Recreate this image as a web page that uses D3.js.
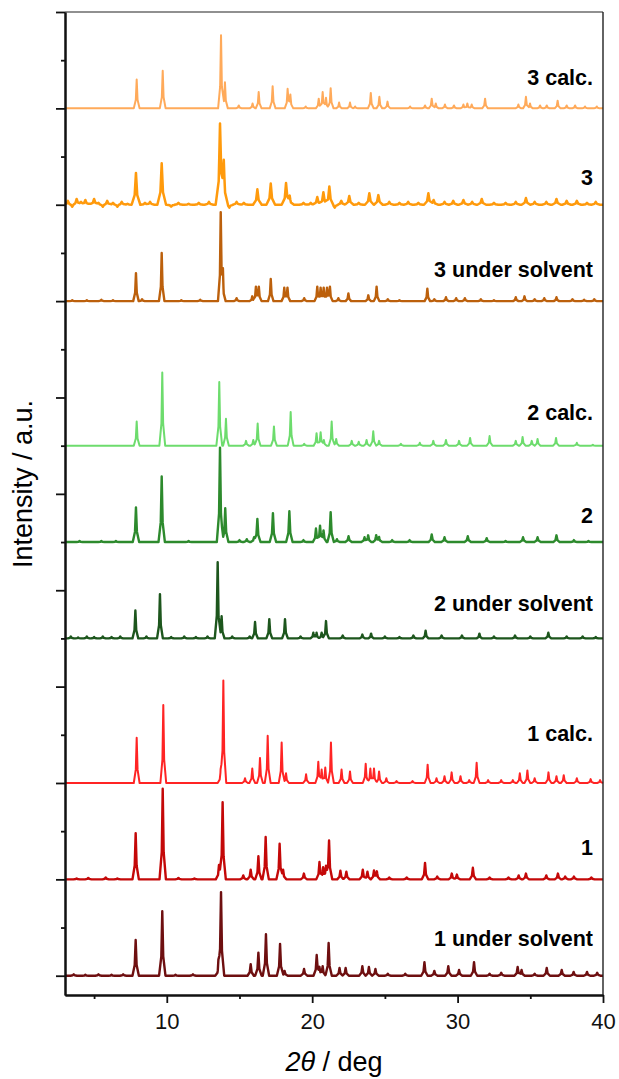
<!DOCTYPE html>
<html>
<head>
<meta charset="utf-8">
<script src="https://cdn.jsdelivr.net/npm/d3@7"></script>
<style>
  body { margin: 0; background: #fff; }
  text { font-family: Arial, "Liberation Sans", sans-serif; fill: #000; }
</style>
</head>
<body>
<script>
var width = 619;
var height = 1079;
var margin = { top: 12, right: 16, bottom: 84, left: 65 };

// peak lists: [2theta, intensity above the pattern's own baseline]
var peaks3calc = [[7.93,0.30],[9.72,0.39],[13.73,0.76],[14.0,0.27],[14.95,0.03],[15.9,0.05],[16.32,0.17],[17.28,0.23],[18.31,0.2],[18.5,0.14],[19.55,0.02],[20.45,0.1],[20.72,0.17],[20.95,0.11],[21.27,0.21],[21.85,0.06],[22.6,0.06],[22.95,0.02],[24.03,0.16],[24.62,0.12],[25.18,0.07],[26.73,0.02],[27.76,0.03],[28.22,0.1],[28.5,0.05],[29.13,0.04],[29.75,0.03],[30.4,0.04],[30.67,0.05],[30.97,0.04],[31.89,0.1],[34.18,0.04],[34.7,0.12],[34.98,0.05],[35.67,0.03],[36.13,0.03],[36.88,0.08],[37.5,0.03],[38.08,0.03],[38.76,0.02],[39.57,0.02]];
var peaks3 = [[3.2,0.04],[3.5,-0.02],[3.8,0.06],[4.1,0.03],[4.4,0.05],[4.7,0.01],[5.0,0.06],[5.3,0.02],[5.6,-0.02],[5.9,0.04],[6.3,0.02],[6.6,-0.02],[6.9,0.03],[7.3,0.01],[7.88,0.33],[8.5,0.02],[8.85,0.03],[9.65,0.43],[10.3,-0.02],[10.8,0.02],[11.5,0.01],[12.2,0.02],[12.9,0.03],[13.66,0.82],[13.92,0.42],[14.3,-0.03],[14.8,0.03],[15.3,0.02],[16.23,0.16],[17.15,0.22],[18.2,0.22],[18.45,0.08],[19.4,0.02],[19.9,0.02],[20.35,0.08],[20.77,0.13],[21.18,0.19],[21.55,-0.03],[22.0,0.04],[22.55,0.09],[23.2,0.02],[23.93,0.12],[24.55,0.1],[25.3,0.03],[26.0,0.02],[26.6,0.03],[27.3,0.02],[27.99,0.12],[28.35,0.05],[29.1,0.03],[29.7,0.04],[30.4,0.05],[31.0,0.03],[31.66,0.06],[32.5,0.02],[33.3,0.02],[34.0,0.03],[34.7,0.07],[35.3,0.03],[36.1,0.03],[36.8,0.06],[37.5,0.04],[38.2,0.04],[38.9,0.02],[39.5,0.03]];
var peaks3us = [[3.5,0.01],[4.5,0.01],[5.5,0.015],[6.3,0.01],[7.88,0.29],[8.3,0.02],[9.65,0.5],[11.0,0.01],[12.3,0.015],[13.71,0.9],[13.86,0.26],[14.8,0.03],[15.88,0.05],[16.13,0.15],[16.33,0.15],[17.15,0.23],[18.08,0.14],[18.3,0.14],[19.45,0.03],[20.35,0.15],[20.58,0.14],[20.79,0.14],[21.02,0.14],[21.22,0.15],[21.8,0.03],[22.49,0.08],[23.86,0.06],[24.43,0.15],[25.2,0.02],[26.0,0.01],[27.92,0.13],[28.4,0.02],[29.2,0.04],[29.9,0.03],[30.5,0.03],[31.6,0.02],[32.5,0.01],[34.0,0.04],[34.6,0.05],[35.3,0.02],[35.96,0.03],[36.8,0.04],[37.9,0.02],[38.7,0.015],[39.4,0.02]];
var peaks2calc = [[7.93,0.25],[9.69,0.76],[13.61,0.66],[14.07,0.28],[15.45,0.05],[15.95,0.06],[16.25,0.23],[17.37,0.2],[18.52,0.35],[19.45,0.02],[20.3,0.13],[20.58,0.14],[20.8,0.06],[21.34,0.25],[21.65,0.07],[22.72,0.05],[23.2,0.04],[23.74,0.06],[24.2,0.15],[24.6,0.05],[26.1,0.02],[27.4,0.03],[28.33,0.05],[29.2,0.06],[30.1,0.05],[30.86,0.08],[32.2,0.1],[34.0,0.05],[34.47,0.09],[35.1,0.05],[35.5,0.07],[36.77,0.08],[38.2,0.03],[39.3,0.01]];
var peaks2 = [[4.0,0.01],[5.5,0.01],[6.5,0.01],[7.88,0.36],[9.65,0.68],[11.5,0.01],[13.66,0.98],[14.02,0.35],[15.0,0.02],[15.5,0.03],[16.0,0.05],[16.23,0.24],[17.3,0.3],[18.43,0.32],[19.4,0.02],[20.26,0.14],[20.54,0.17],[20.78,0.12],[21.27,0.31],[21.7,0.03],[22.5,0.06],[23.6,0.05],[23.85,0.07],[24.4,0.07],[24.6,0.05],[25.5,0.02],[26.7,0.02],[28.22,0.08],[29.1,0.05],[30.7,0.06],[32.0,0.04],[33.3,0.01],[34.5,0.05],[35.5,0.05],[36.8,0.07],[38.0,0.02],[39.0,0.01]];
var peaks2us = [[3.4,0.02],[3.9,0.01],[4.5,0.02],[5.0,0.015],[5.6,0.02],[6.2,0.015],[6.8,0.02],[7.84,0.29],[8.6,0.02],[9.53,0.46],[10.3,0.015],[11.2,0.02],[12.0,0.015],[12.8,0.02],[13.5,0.79],[13.77,0.23],[14.5,0.02],[15.7,0.02],[16.07,0.17],[17.05,0.2],[18.13,0.2],[19.2,0.02],[20.08,0.06],[20.3,0.06],[20.65,0.06],[20.95,0.18],[22.1,0.03],[23.45,0.04],[24.05,0.05],[25.0,0.02],[26.0,0.015],[26.96,0.03],[27.8,0.08],[28.9,0.03],[30.3,0.03],[31.5,0.05],[32.5,0.02],[33.95,0.03],[35.0,0.02],[36.24,0.06],[37.5,0.02],[38.6,0.02],[39.5,0.015]];
var peaks1calc = [[7.93,0.47],[9.76,0.81],[13.7,0.12],[13.89,1.06],[15.38,0.05],[15.88,0.15],[16.41,0.26],[16.94,0.49],[17.9,0.42],[18.2,0.1],[19.58,0.09],[20.42,0.22],[20.65,0.14],[20.9,0.16],[21.29,0.42],[22.02,0.14],[22.6,0.12],[23.68,0.2],[24.0,0.15],[24.25,0.15],[24.6,0.12],[25.1,0.05],[25.8,0.02],[26.9,0.02],[27.94,0.19],[28.55,0.05],[29.1,0.07],[29.59,0.11],[30.2,0.07],[30.8,0.03],[31.31,0.21],[32.1,0.03],[33.0,0.03],[33.8,0.03],[34.28,0.1],[34.8,0.13],[35.3,0.05],[36.25,0.11],[36.8,0.07],[37.3,0.08],[38.2,0.05],[39.15,0.04],[39.8,0.03]];
var peaks1 = [[3.8,0.01],[4.6,0.015],[5.8,0.02],[6.6,0.01],[7.86,0.48],[9.72,0.94],[10.8,0.015],[11.9,0.01],[13.59,0.15],[13.84,0.8],[15.26,0.04],[15.77,0.1],[16.3,0.24],[16.8,0.44],[17.76,0.37],[18.0,0.1],[19.43,0.06],[20.5,0.18],[20.75,0.12],[20.95,0.13],[21.16,0.4],[21.94,0.09],[22.35,0.08],[23.48,0.1],[23.8,0.08],[24.25,0.09],[24.45,0.08],[25.3,0.02],[26.5,0.02],[27.76,0.17],[28.6,0.03],[29.6,0.06],[29.95,0.05],[31.05,0.12],[32.2,0.02],[33.5,0.02],[34.2,0.04],[34.7,0.06],[36.1,0.04],[36.9,0.06],[37.4,0.03],[38.0,0.03],[39.2,0.02]];
var peaks1us = [[3.6,0.015],[4.4,0.01],[5.3,0.015],[6.2,0.01],[7.0,0.015],[7.86,0.37],[9.69,0.67],[10.6,0.01],[11.8,0.015],[13.55,0.1],[13.73,0.86],[15.77,0.12],[16.3,0.24],[16.82,0.43],[17.79,0.33],[18.1,0.05],[19.44,0.07],[20.31,0.21],[20.5,0.08],[20.72,0.1],[21.13,0.34],[21.88,0.08],[22.3,0.08],[23.45,0.1],[23.9,0.09],[24.35,0.07],[25.2,0.02],[26.4,0.02],[27.72,0.14],[28.4,0.05],[29.36,0.1],[30.1,0.06],[31.13,0.14],[32.2,0.02],[33.0,0.03],[34.13,0.09],[34.4,0.06],[35.3,0.02],[36.13,0.08],[37.16,0.06],[37.98,0.04],[38.9,0.04],[39.6,0.03]];

var names = ['3 calc.', '3', '3 under solvent', '2 calc.', '2', '2 under solvent', '1 calc.', '1', '1 under solvent'];
var patterns = [peaks3calc, peaks3, peaks3us, peaks2calc, peaks2, peaks2us, peaks1calc, peaks1, peaks1us];
// vertical offset of each pattern's baseline
var offsets = [9, 8, 7, 5.5, 4.5, 3.5, 2, 1, 0];

var xTicks = [10, 20, 30, 40];
var xMinor = [5, 15, 25, 35];
var yTicks = d3.range(0, 11);
var yMinor = d3.range(0.5, 10, 1);

// stile delle curve
var colors = ['#ffaa5a', '#ff9a0c', '#bc600c', '#6ddc6d', '#2d8a2d', '#1d561d', '#ff2424', '#c40808', '#6e0f10'];
var strokes = [2, 2.5, 2.4, 2, 2.4, 2.4, 2, 2.4, 2.4];
var halfWidth = [0.2, 0.3, 0.19, 0.2, 0.22, 0.2, 0.2, 0.22, 0.22];
var labelLift = [23, 20, 24, 26, 19, 27, 42, 24, 30];

var x = d3.scaleLinear().domain([3, 40]).range([margin.left, width - margin.right]);
var y = d3.scaleLinear().domain([-0.2, 10]).range([height - margin.bottom, margin.top]);

var svg = d3.select('body').append('svg')
  .attr('width', width)
  .attr('height', height);

// each peak is drawn as a narrow spike with wider feet; overlapping spikes add up
function spike(dx, w, h) {
  var t = Math.abs(dx) / w;
  if (t >= 1) return 0;
  return t <= 0.3 ? h * (1 - 0.7 * t / 0.3) : h * 0.3 * (1 - t) / 0.7;
}

function profile(peaks, w) {
  var xs = [3, 40];
  peaks.forEach(function (p) {
    xs.push(p[0] - w, p[0] - 0.3 * w, p[0], p[0] + 0.3 * w, p[0] + w);
  });
  xs = xs.filter(function (v) { return v >= 3 && v <= 40; }).sort(d3.ascending);
  return xs.map(function (v) {
    return [v, d3.sum(peaks, function (p) { return spike(v - p[0], w, p[1]); })];
  });
}

var plot = svg.append('g');

patterns.forEach(function (peaks, i) {
  var line = d3.line()
    .x(function (d) { return x(d[0]); })
    .y(function (d) { return y(offsets[i] + d[1]); });

  plot.append('path')
    .datum(profile(peaks, halfWidth[i]))
    .attr('d', line)
    .style('fill', 'none')
    .style('stroke', colors[i])
    .style('stroke-width', strokes[i])
    .style('stroke-linejoin', 'round');

  plot.append('text')
    .attr('x', 593)
    .attr('y', y(offsets[i]) - labelLift[i])
    .attr('text-anchor', 'end')
    .style('font-size', '21.5px')
    .style('font-weight', 'bold')
    .text(names[i]);
});

// assi
var xAxis = svg.append('g')
  .attr('transform', 'translate(0,' + y(-0.2) + ')')
  .call(d3.axisBottom(x).tickValues(xTicks).tickSize(8).tickPadding(10).tickSizeOuter(0));
svg.append('g')
  .attr('transform', 'translate(0,' + y(-0.2) + ')')
  .call(d3.axisBottom(x).tickValues(xMinor).tickSize(4).tickFormat('').tickSizeOuter(0));

var yAxis = svg.append('g')
  .attr('transform', 'translate(' + x(3) + ',0)')
  .call(d3.axisLeft(y).tickValues(yTicks).tickSize(9).tickFormat('').tickSizeOuter(0));
svg.append('g')
  .attr('transform', 'translate(' + x(3) + ',0)')
  .call(d3.axisLeft(y).tickValues(yMinor).tickSize(4).tickFormat('').tickSizeOuter(0));

svg.selectAll('.domain').style('stroke', '#111').style('stroke-width', 2);
svg.selectAll('.tick line').style('stroke', '#111').style('stroke-width', 1.8);
xAxis.selectAll('.tick text')
  .style('font-size', '22px')
  .style('font-family', 'Arial, "Liberation Sans", sans-serif')
  .style('fill', '#111');

// cornice superiore e destra
svg.append('line')
  .attr('x1', x(3)).attr('x2', x(40))
  .attr('y1', y(10)).attr('y2', y(10))
  .style('stroke', '#222').style('stroke-width', 1.2);
svg.append('line')
  .attr('x1', x(40)).attr('x2', x(40))
  .attr('y1', y(10)).attr('y2', y(-0.2))
  .style('stroke', '#222').style('stroke-width', 1.4);

// titoli degli assi
var xTitle = svg.append('text')
  .attr('x', (x(3) + x(40)) / 2)
  .attr('y', 1071)
  .attr('text-anchor', 'middle')
  .style('font-size', '27px');
xTitle.append('tspan').style('font-style', 'italic').text('2θ');
xTitle.append('tspan').text(' / deg');

svg.append('text')
  .attr('transform', 'translate(32,484) rotate(-90)')
  .attr('text-anchor', 'middle')
  .style('font-size', '27px')
  .text('Intensity / a.u.');
</script>
</body>
</html>
